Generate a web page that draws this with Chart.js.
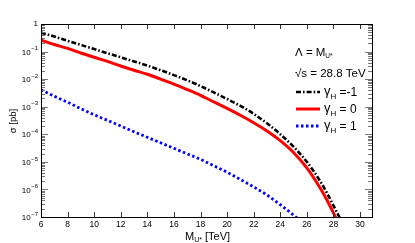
<!DOCTYPE html>
<html><head><meta charset="utf-8">
<script src="https://cdn.jsdelivr.net/npm/chart.js@4.4.1/dist/chart.umd.min.js"></script>
<style>html,body{margin:0;padding:0;background:#fff}#wrap{width:415px;height:243px;position:relative}</style>
</head><body><div id="wrap"><canvas id="c" width="415" height="243"></canvas></div>
<script>
// gamma_H = -1 (black dash-dot)
const massNeg1  = [6, 7, 8, 9, 10, 11, 12, 13, 14, 15, 16, 17, 18, 19, 20, 21, 22, 23, 24, 25, 26, 27, 27.5, 28, 28.55];
const sigmaNeg1 = [4.9e-1, 3.5e-1, 2.45e-1, 1.74e-1, 1.23e-1, 8.7e-2, 6.2e-2, 4.4e-2, 3.1e-2, 2.1e-2, 1.4e-2, 9.1e-3, 5.6e-3, 3.3e-3, 1.9e-3, 1.07e-3, 5.5e-4, 2.5e-4, 1.0e-4, 3.55e-5, 1.0e-5, 2.0e-6, 7.6e-7, 2.6e-7, 7.9e-8];
// gamma_H = 0 (red solid)
const massZero  = [6, 7, 8, 9, 10, 11, 12, 13, 14, 15, 16, 17, 18, 19, 20, 21, 22, 23, 24, 25, 26, 27, 27.5, 28, 28.2];
const sigmaZero = [2.6e-1, 1.8e-1, 1.3e-1, 8.9e-2, 6.2e-2, 4.4e-2, 3.0e-2, 2.1e-2, 1.5e-2, 1.0e-2, 6.6e-3, 4.2e-3, 2.6e-3, 1.5e-3, 8.7e-4, 4.9e-4, 2.63e-4, 1.32e-4, 5.9e-5, 2.19e-5, 6.0e-6, 1.12e-6, 4.2e-7, 1.41e-7, 8.9e-8];
// gamma_H = 1 (blue dotted)
const massPlus1  = [6, 7, 8, 9, 10, 11, 12, 13, 14, 15, 16, 17, 18, 19, 20, 21, 22, 23, 24, 25, 25.3];
const sigmaPlus1 = [4.1e-3, 2.4e-3, 1.45e-3, 8.5e-4, 5.1e-4, 3.2e-4, 2.0e-4, 1.23e-4, 7.8e-5, 4.9e-5, 3.1e-5, 1.95e-5, 1.23e-5, 7.2e-6, 4.2e-6, 2.3e-6, 1.23e-6, 6.3e-7, 2.8e-7, 1.17e-7, 8.9e-8];

const xTickValues = [6, 8, 10, 12, 14, 16, 18, 20, 22, 24, 26, 28, 30];
const yTickExponents = [0, -1, -2, -3, -4, -5, -6, -7];
const legendLabels = ['-1', '0', '1'];

const FONT = '"Liberation Sans", Arial, Helvetica, sans-serif';

function pts(xs, ys) { return xs.map((x, i) => ({x: x, y: ys[i]})); }

const deco = {
  id: 'deco',
  afterDraw(chart) {
    const ctx = chart.ctx, a = chart.chartArea, xs = chart.scales.x, ys = chart.scales.y;
    ctx.save();
    function seg(x1, y1, x2, y2) { ctx.beginPath(); ctx.moveTo(x1, y1); ctx.lineTo(x2, y2); ctx.stroke(); }
    // x ticks (inward, bottom and top)
    ctx.strokeStyle = '#333'; ctx.lineWidth = 1;
    xTickValues.forEach(v => {
      const px = Math.round(xs.getPixelForValue(v)) + 0.5;
      seg(px, a.bottom, px, a.bottom - 5);
      seg(px, a.top, px, a.top + 5);
    });
    // y ticks (inward, left and right)
    ctx.strokeStyle = '#777';
    for (let e = -7; e <= 0; e++) {
      const base = Math.pow(10, e);
      const py = Math.round(ys.getPixelForValue(base)) + 0.5;
      seg(a.left, py, a.left + 7, py);
      seg(a.right, py, a.right - 7, py);
      if (e < 0) {
        for (let m = 2; m <= 9; m++) {
          const q = Math.round(ys.getPixelForValue(m * base)) + 0.5;
          seg(a.left, q, a.left + 4, q);
          seg(a.right, q, a.right - 4, q);
        }
      }
    }
    // frame
    ctx.strokeStyle = '#000'; ctx.lineWidth = 1;
    ctx.strokeRect(Math.round(a.left) + 0.5, Math.round(a.top) + 0.5, Math.round(a.right - a.left), Math.round(a.bottom - a.top));

    // x tick labels
    ctx.fillStyle = '#000';
    ctx.font = '8.5px ' + FONT; ctx.textAlign = 'center'; ctx.textBaseline = 'middle';
    xTickValues.forEach(v => ctx.fillText(String(v), xs.getPixelForValue(v), a.bottom + 8));

    // y tick labels
    yTickExponents.forEach(e => {
      const py = ys.getPixelForValue(Math.pow(10, e));
      const rx = a.left - 3;
      ctx.textBaseline = 'middle';
      if (e === 0) {
        ctx.font = '8px ' + FONT; ctx.textAlign = 'right';
        ctx.fillText('1', rx, py);
      } else {
        const exp = '\u2212' + String(-e);
        ctx.font = '6px ' + FONT;
        const ew = ctx.measureText(exp).width;
        ctx.textAlign = 'left';
        ctx.fillText(exp, rx - ew, py - 3);
        ctx.font = '8px ' + FONT;
        ctx.textAlign = 'right';
        ctx.fillText('10', rx - ew - 0.5, py + 1);
      }
    });

    // x axis title: M_{U*} [TeV]
    {
      ctx.textBaseline = 'alphabetic'; ctx.textAlign = 'left';
      ctx.font = '11px ' + FONT; const wM = ctx.measureText('M').width;
      ctx.font = '7px ' + FONT; const wS = ctx.measureText('U*').width;
      ctx.font = '11px ' + FONT; const wT = ctx.measureText(' [TeV]').width;
      let x0 = (a.left + a.right) / 2 - (wM + wS + wT) / 2 + 1;
      const base = 240;
      ctx.font = '11px ' + FONT; ctx.fillText('M', x0, base);
      ctx.font = '7px ' + FONT; ctx.fillText('U*', x0 + wM, base + 2);
      ctx.font = '11px ' + FONT; ctx.fillText(' [TeV]', x0 + wM + wS, base);
    }
    // y axis title
    ctx.save();
    ctx.translate(13, 121);
    ctx.rotate(-Math.PI / 2);
    ctx.font = '9.5px ' + FONT; ctx.textAlign = 'center'; ctx.textBaseline = 'middle';
    ctx.fillText('\u03c3 [pb]', 0, 0);
    ctx.restore();

    // legend / annotations
    ctx.textAlign = 'left'; ctx.textBaseline = 'alphabetic';
    const lx = 295;
    ctx.font = '11.5px ' + FONT;
    ctx.fillText('\u039b = M', lx, 56);
    const wLM = ctx.measureText('\u039b = M').width;
    ctx.font = '6.5px ' + FONT; ctx.fillText('U*', lx + wLM, 58);
    ctx.font = '11.5px ' + FONT;
    ctx.fillText('\u221as = 28.8 TeV', lx, 77);

    const ds = chart.data.datasets;
    const rows = [92, 109, 126];
    rows.forEach((ry, i) => {
      const d = ds[i];
      ctx.strokeStyle = d.borderColor; ctx.lineWidth = d.borderWidth;
      ctx.setLineDash(d.borderDash || []);
      seg(296, ry, 320, ry);
      ctx.setLineDash([]);
      ctx.fillStyle = '#000';
      ctx.font = '13px ' + FONT;
      ctx.fillText('\u03b3', 324, ry + 3);
      const wg = ctx.measureText('\u03b3').width;
      ctx.font = '8px ' + FONT;
      ctx.fillText('H', 324 + wg, ry + 7);
      const wh = ctx.measureText('H').width;
      ctx.font = '12px ' + FONT;
      ctx.fillText(i === 0 ? ' =' + legendLabels[i] : ' = ' + legendLabels[i], 324 + wg + wh, ry + 4);
    });
    ctx.restore();
  }
};

new Chart(document.getElementById('c'), {
  type: 'line',
  data: {
    datasets: [
      { label: '\u03b3H = -1', data: pts(massNeg1, sigmaNeg1), borderColor: '#000000', borderWidth: 2.6, borderDash: [5, 2, 1.6, 2], pointRadius: 0, cubicInterpolationMode: 'monotone', fill: false },
      { label: '\u03b3H = 0', data: pts(massZero, sigmaZero), borderColor: '#ff0000', borderWidth: 3, pointRadius: 0, cubicInterpolationMode: 'monotone', fill: false },
      { label: '\u03b3H = 1', data: pts(massPlus1, sigmaPlus1), borderColor: '#0000ff', borderWidth: 2.8, borderDash: [2.5, 2.5], pointRadius: 0, cubicInterpolationMode: 'monotone', fill: false }
    ]
  },
  options: {
    responsive: false, animation: false, devicePixelRatio: 1,
    layout: { padding: { left: 41, top: 24, right: 43, bottom: 26 } },
    scales: {
      x: { type: 'linear', min: 6, max: 30.9, display: false },
      y: { type: 'logarithmic', min: 1e-7, max: 1, display: false }
    },
    plugins: { legend: { display: false }, tooltip: { enabled: false } }
  },
  plugins: [deco]
});
</script></body></html>
